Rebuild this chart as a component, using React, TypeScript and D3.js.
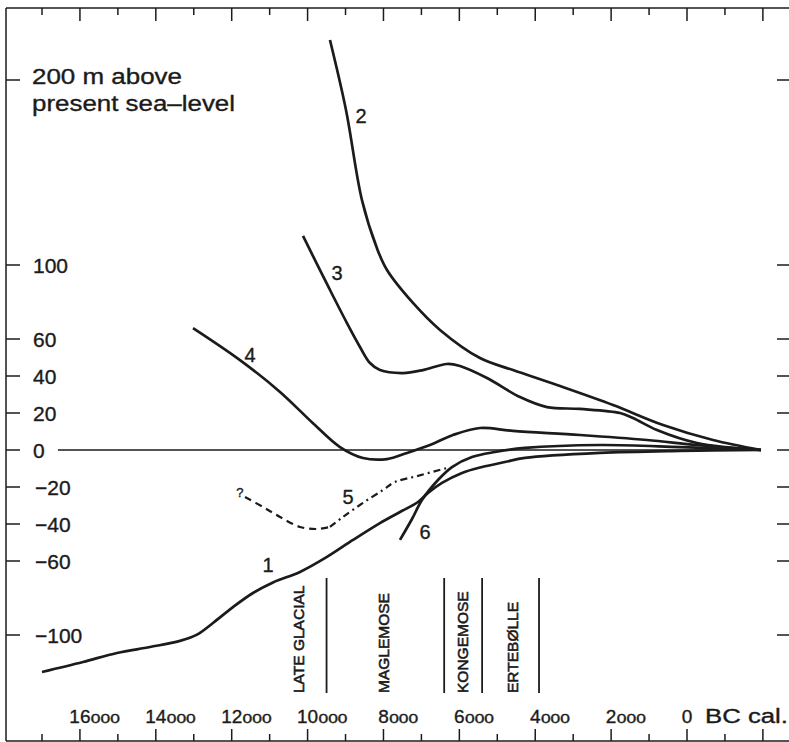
import React from "react";
import * as d3 from "d3";

// years BC (negative = AD), level in metres
const curve1 = [[17000,-120],[15920,-114.6],[15024,-109.7],[14154,-106.5],[13363,-103.2],[12915,-99.8],[12493,-93.5],[11966,-84.9],[11439,-77.3],[10912,-71.6],[10200,-65.9],[9489,-57.8],[8803,-48.6],[8092,-39.5],[7565,-33.5],[7090,-28.1],[6827,-23.2],[6458,-17.8],[5930,-12.4],[5403,-9.2],[4797,-6.5],[4270,-4.3],[2293,-1.6],[185,-0.5],[-1950,0]];
const curve2 = [[9410,221.6],[8988,183.8],[8566,135],[8171,109],[7907,97.3],[7222,79.5],[6510,64.9],[5456,49.7],[4586,43.2],[3426,35.1],[1950,24.3],[632,13.5],[-685,5.4],[-1950,0]];
const curve3 = [[10121,115.7],[9410,86.5],[8962,68.6],[8619,55.7],[8355,47],[8092,43.2],[7485,41.6],[6958,43.2],[6326,46.5],[5983,45.4],[5271,38.9],[4402,28.6],[3690,23.2],[2820,22.2],[1766,20],[1423,17.3],[791,10.8],[-264,3.8],[-1950,0]];
const curve4 = [[13020,65.9],[11782,48.6],[10727,31.4],[9858,14.5],[9146,1.6],[8540,-4.3],[7907,-4.9],[7380,-1.6],[6774,2.7],[6168,8.1],[5456,11.9],[4586,10.3],[2820,8.1],[1054,5.4],[-264,2.7],[-1950,0]];
const curve5Dashed = [[11650,-25.4],[11175,-30.8],[10727,-36.2],[10200,-41.6],[9752,-42.7],[9410,-41.6]];
const curve5DashDot = [[9410,-41.6],[9067,-36.2],[8540,-28.6],[8013,-21.6],[7696,-17.3],[7116,-14.1],[6326,-9.7]];
const curve6 = [[7565,-48.6],[7248,-37.3],[6985,-27],[6563,-16.2],[6194,-9.2],[5667,-3.8],[5061,-1.1],[4270,1.1],[2293,2.7],[185,1.6],[-1950,0]];
const zeroLine = [[16580,0],[-1950,0]];

const curveLabels = [
  { text: "1", year: 11044, value: -62.2 },
  { text: "2", year: 8593, value: 180.5 },
  { text: "3", year: 9225, value: 95.7 },
  { text: "4", year: 11518, value: 51.4 },
  { text: "5", year: 8935, value: -25.4 },
  { text: "6", year: 6906, value: -44.3 },
];

const periodBounds = [9500, 6400, 5400, 3900];
const periodNames = ["LATE GLACIAL", "MAGLEMOSE", "KONGEMOSE", "ERTEBØLLE"];
const periodLabelYears = [10253, 8013, 5930, 4613];

const yTicks = [-100, -60, -40, -20, 0, 20, 40, 60, 100, 200];
const xTicks = d3.range(17000, -3000, -1000);
const xLabelYears = [16000, 14000, 12000, 10000, 8000, 6000, 4000, 2000];
const xLabelBig = ["16", "14", "12", "10", "8", "6", "4", "2"];

const FONT = "'Liberation Sans', Arial, Helvetica, sans-serif";
const INK = "#1b1b1b";

const x = d3.scaleLinear().domain([17000, 0]).range([42, 687]);
const y = d3.scaleLinear().domain([0, 100]).range([450, 265]);

const line = d3
  .line<number[]>()
  .x((d) => x(d[0]))
  .y((d) => y(d[1]))
  .curve(d3.curveCatmullRom.alpha(0.5));

const W = 789;
const H = 742;
const LEFT = 6;
const TOP = 8;
const BOTTOM = 741;

// text gets a hairline stroke so it reads as heavy as the scan
const ink = { fill: INK, stroke: INK, strokeWidth: 0.35 };

export default function App() {
  const fmt = (v: number) => (v < 0 ? "\u2212" + Math.abs(v) : String(v));
  return (
    <svg
      width={W}
      height={H}
      style={{ position: "absolute", left: 0, top: 0, background: "#fff" }}
      fontFamily={FONT}
    >
      {/* frame */}
      <line x1={LEFT} x2={LEFT} y1={TOP} y2={BOTTOM} stroke={INK} strokeWidth={1.5} />
      <line x1={LEFT} x2={W} y1={TOP} y2={TOP} stroke={INK} strokeWidth={1.5} />
      <line x1={LEFT} x2={W} y1={BOTTOM} y2={BOTTOM} stroke={INK} strokeWidth={1.5} />

      {/* x ticks top & bottom */}
      {xTicks.map((t) => {
        const major = t % 2000 === 0;
        return (
          <g key={"xt" + t}>
            <line x1={x(t)} x2={x(t)} y1={TOP} y2={TOP + (major ? 13 : 7)} stroke={INK} strokeWidth={1.5} />
            <line x1={x(t)} x2={x(t)} y1={BOTTOM} y2={BOTTOM - (major ? 12 : 7)} stroke={INK} strokeWidth={1.5} />
          </g>
        );
      })}

      {/* y ticks left & right */}
      {yTicks.map((t) => (
        <g key={"yt" + t}>
          <line x1={LEFT} x2={LEFT + 14} y1={y(t)} y2={y(t)} stroke={INK} strokeWidth={1.5} />
          <line x1={W - 12} x2={W} y1={y(t)} y2={y(t)} stroke={INK} strokeWidth={1.5} />
        </g>
      ))}

      {/* y labels */}
      {yTicks
        .filter((t) => t !== 200)
        .map((t) => (
          <text key={"yl" + t} x={t < 0 ? 35 : 33} y={y(t) + 7.5} fontSize={21} {...ink}>
            {fmt(t)}
          </text>
        ))}
      <text x={32} y={y(200) + 4} fontSize={21.5} {...ink} textLength={150} lengthAdjust="spacingAndGlyphs">
        200 m above
      </text>
      <text x={32} y={y(200) + 31} fontSize={21.5} {...ink} textLength={203} lengthAdjust="spacingAndGlyphs">
        present sea–level
      </text>

      {/* x labels */}
      {xLabelYears.map((yr, i) => {
        const big = xLabelBig[i];
        const bw = big.length * 10.4;
        return (
          <g key={"xl" + yr}>
            <text x={x(yr)} y={723} fontSize={19} textAnchor="middle" {...ink}>
              {big}
            </text>
            <text x={x(yr) + bw / 2 + 0.5} y={723} fontSize={12} {...ink} textLength={29} lengthAdjust="spacingAndGlyphs">
              000
            </text>
          </g>
        );
      })}
      <text x={x(0)} y={723} fontSize={19} textAnchor="middle" {...ink}>
        0
      </text>
      <text x={705} y={723} fontSize={20} {...ink} textLength={83} lengthAdjust="spacingAndGlyphs">
        BC  cal.
      </text>

      {/* period boundaries */}
      {periodBounds.map((b) => (
        <line key={"pb" + b} x1={x(b)} x2={x(b)} y1={578} y2={693} stroke={INK} strokeWidth={1.8} />
      ))}
      {periodNames.map((n, i) => (
        <text
          key={n}
          transform={`translate(${x(periodLabelYears[i]) + 6},693) rotate(-90)`}
          fontSize={15.5}
          {...ink}
          strokeWidth={0.6}
        >
          {n}
        </text>
      ))}

      {/* zero line */}
      <path d={line(zeroLine) || ""} fill="none" stroke={INK} strokeWidth={1.5} />

      {/* curves */}
      {[curve1, curve2, curve3, curve4, curve6].map((c, i) => (
        <path key={"c" + i} d={line(c) || ""} fill="none" stroke={INK} strokeWidth={2.7} strokeLinejoin="round" />
      ))}
      <path d={line(curve5Dashed) || ""} fill="none" stroke={INK} strokeWidth={2.2} strokeDasharray="7 5" />
      <path d={line(curve5DashDot) || ""} fill="none" stroke={INK} strokeWidth={2.2} strokeDasharray="7 4 2 4" />

      {/* curve labels */}
      {curveLabels.map((l) => (
        <text
          key={"cl" + l.text}
          x={x(l.year)}
          y={y(l.value) + 7}
          fontSize={20}
          textAnchor="middle"
          {...ink}
        >
          {l.text}
        </text>
      ))}
      <text x={x(11782)} y={y(-23.2) + 4} fontSize={13} textAnchor="middle" {...ink}>
        ?
      </text>
    </svg>
  );
}
